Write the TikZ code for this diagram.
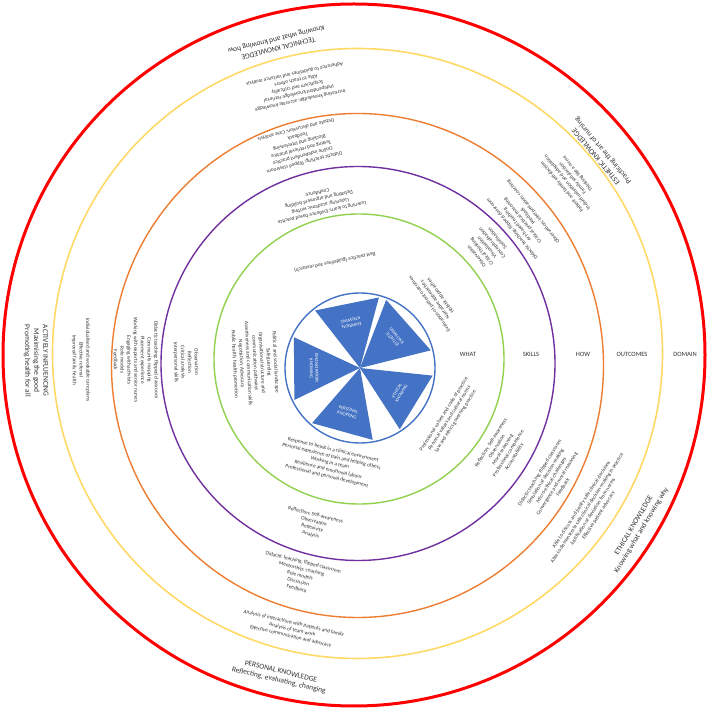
\documentclass[tikz,border=0pt]{standalone}
\usepackage{fontspec}
\setmainfont{Carlito}
\usetikzlibrary{calc}
\definecolor{cred}{HTML}{FF0000}
\definecolor{cyellow}{HTML}{FFD966}
\definecolor{corange}{HTML}{ED7D31}
\definecolor{cpurple}{HTML}{7030A0}
\definecolor{cgreen}{HTML}{92D050}
\definecolor{kblue}{HTML}{4472C4}
\definecolor{tcol}{HTML}{333333}
\begin{document}
\begin{tikzpicture}[x=1pt,y=1pt,
  ring/.style={line width=1.4pt},
  txt/.style={font=\fontsize{5.3}{6.8}\selectfont, align=center, text=tcol, inner sep=0pt},
  dom/.style={font=\fontsize{7.5}{9}\selectfont, align=center, text=tcol, inner sep=0pt},
  lab/.style={font=\fontsize{6.5}{8}\selectfont, text=tcol, inner sep=0pt},
  know/.style={font=\fontsize{4.6}{5.4}\selectfont, align=center, text=white, inner sep=0pt},
  tri/.style={fill=kblue, draw=none}]
\useasboundingbox (0,0) rectangle (709,710);
\fill[white] (0,0) rectangle (709,710);
\coordinate (C) at (355,352);
\coordinate (B) at (360,342);
% rings
\draw[cred, line width=3pt] (354,355) circle (351);
\draw[cyellow, line width=1.6pt] (357.5,356.5) circle (305);
\draw[corange, ring] (357.5,344.5) ellipse (246 and 252);
\draw[cpurple, ring] (358,346.5) circle (197);
\draw[cgreen, ring] (359,351) circle (145);
\draw[kblue, ring] (B) circle (75);
% triangles
\fill[tri] (B) -- ([shift={(75:73)}]B) -- ([shift={(128:73)}]B) -- cycle;
\fill[tri] (B) -- ([shift={(14:73)}]B) -- ([shift={(69:73)}]B) -- cycle;
\fill[tri] (B) -- ([shift={(-57:73)}]B) -- ([shift={(-6:73)}]B) -- cycle;
\fill[tri] (B) -- ([shift={(-131:73)}]B) -- ([shift={(-80:73)}]B) -- cycle;
\fill[tri] (B) -- ([shift={(155:73)}]B) -- ([shift={(206:73)}]B) -- cycle;
\node[know, rotate=191.5] (kemp) at ([shift={(101.5:46)}]B) {EMPIRICAL\\KNOWING};
\node[know, rotate=131.5] (kest) at ([shift={(41.5:46)}]B) {ESTHETIC\\KNOWING};
\node[know, rotate=58.5] (keth) at ([shift={(-31.5:46)}]B) {ETHICAL\\KNOWING};
\node[know, rotate=-15.5] (kper) at ([shift={(-105.5:46)}]B) {PERSONAL\\KNOWING};
\node[know, rotate=270.5] (kema) at ([shift={(180.5:46)}]B) {EMANCIPATORY\\KNOWING};
% column labels
\node[lab] (lwhat) at (468,356) {WHAT};
\node[lab] (lskills) at (531,356) {SKILLS};
\node[lab] (lhow) at (583,356) {HOW};
\node[lab] (lout) at (632,356) {OUTCOMES};
\node[lab] (ldom) at (685,356) {DOMAIN};
% top sector (technical)
\node[dom, rotate=193.9] (d1) at ([shift={(103.9:324)}]C) {TECHNICAL KNOWLEDGE\\Knowing what and knowing how};
\node[txt, rotate=192] (o1) at ([shift={(102:277)}]C) {Increasing knowledge; accurate knowledge\\Independent knowledge retrieval\\Scepticism and criticality\\Able to teach others\\Adherence to guidelines and variance analysis};
\node[txt, rotate=194.5] (h1) at ([shift={(104.5:219)}]C) {Didactic teaching; flipped classroom\\Online independent practice\\Testing and retrieval practice\\Blocking and interleaving\\Feedback\\Debate and discussion; Case analysis};
\node[txt, rotate=192.8] (s1) at ([shift={(102.8:159)}]C) {Learning to learn; Evidence based practice\\Listening; academic writing\\Debating and argument building\\Confidence};
\node[txt, rotate=191.8] (w1) at ([shift={(101.8:98)}]C) {Best practice (guidelines and research)};
% esthetic sector
\node[dom, rotate=129.9] (d2) at ([shift={(39.9:319)}]C) {ESTHETIC KNOWLEDGE\\Practicing the art of nursing};
\node[txt, rotate=129.6] (o2) at ([shift={(39.6:279)}]C) {Patient and family satisfaction\\Individualisation and adaptation\\Family satisfaction\\Thinking like a nurse};
\node[txt, rotate=129.4] (h2) at ([shift={(39.4:217)}]C) {Didactic teaching; flipped classroom\\Art-based teaching\\Critical practical reasoning\\Feedback\\Observation; interpretation; coaching};
\node[txt, rotate=130] (s2) at ([shift={(40:172)}]C) {Observation\\Critical thinking\\Visualisation\\Conceptualisation\\Socialisation};
\node[txt, rotate=126] (w2) at ([shift={(36:99)}]C) {Evaluation of patient outcomes\\Narrative approaches\\Holistic approaches};
% ethical sector
\node[dom, rotate=59] (d3) at ([shift={(-31:330)}]C) {ETHICAL KNOWLEDGE\\Knowing what and knowing why};
\node[txt, rotate=57.1] (o3) at ([shift={(-32.9:280)}]C) {Able to discuss and justify safe clinical decisions\\Able to demonstrate safe clinical decision-making in practice\\Justification of deviation from norms\\Effective patient advocacy};
\node[txt, rotate=58.1] (h3) at ([shift={(-31.9:231)}]C) {Didactic teaching; flipped classroom\\Simulation of decision-making\\Micro-ethical challenges\\Convergence and moral reasoning\\Feedback};
\node[txt, rotate=58.1] (s3) at ([shift={(-31.9:174)}]C) {Reflection; Self-awareness\\Observation\\Moral reasoning\\Professional competence\\Accountability};
\node[txt, rotate=57.7] (w3) at ([shift={(-32.3:112)}]C) {Professional values and code of practice\\Personal values and cultural norms\\Law and ethics governing practice};
% personal sector
\node[dom, rotate=-13.3] (d4) at ([shift={(-103.3:327)}]C) {PERSONAL KNOWLEDGE\\Reflecting, evaluating, changing};
\node[txt, rotate=-13] (o4) at ([shift={(-103:279)}]C) {Analysis of interactions with patients and family\\Analysis of team work\\Effective communication and advocacy};
\node[txt, rotate=-14.2] (h4) at ([shift={(-104.2:224)}]C) {Didactic teaching; flipped classroom\\Mentorship; coaching\\Role models\\Discussion\\Feedback};
\node[txt, rotate=-14.1] (s4) at ([shift={(-104.1:172)}]C) {Reflection; Self-awareness\\Observation\\Reflexivity\\Analysis};
\node[txt, rotate=-13.4] (w4) at ([shift={(-103.4:108)}]C) {Response to being in a clinical environment\\Personal experience of pain and helping others\\Working in a team\\Resilience and emotional labour\\Professional and personal development};
% emancipatory sector (left)
\node[dom, rotate=270.5] (d5) at ([shift={(180.5:319)}]C) {ACTIVELY INFLUENCING\\Maximising the good\\Promoting health for all};
\node[txt, rotate=270.4] (o5) at ([shift={(180.4:274)}]C) {Individualised and workable care plans\\Effective referral\\Improved family health};
\node[txt, rotate=270.5] (h5) at ([shift={(180.5:219)}]C) {Didactic teaching; flipped classroom\\Community mapping\\Placement experience\\Working with experts and senior nurses\\Engaging with activists\\Role models\\Feedback};
\node[txt, rotate=271.4] (s5) at ([shift={(181.4:169)}]C) {Observation\\Reflection\\Critical analysis\\Interpersonal skills};
\node[txt, rotate=272.9] (w5) at ([shift={(182.9:100)}]C) {Political and social landscape\\Safeguarding\\Organisational structure and\\communication pathways\\Assertiveness and communication skills\\Negotiation; Advocacy\\Public health; health promotion};
\end{tikzpicture}
\end{document}
